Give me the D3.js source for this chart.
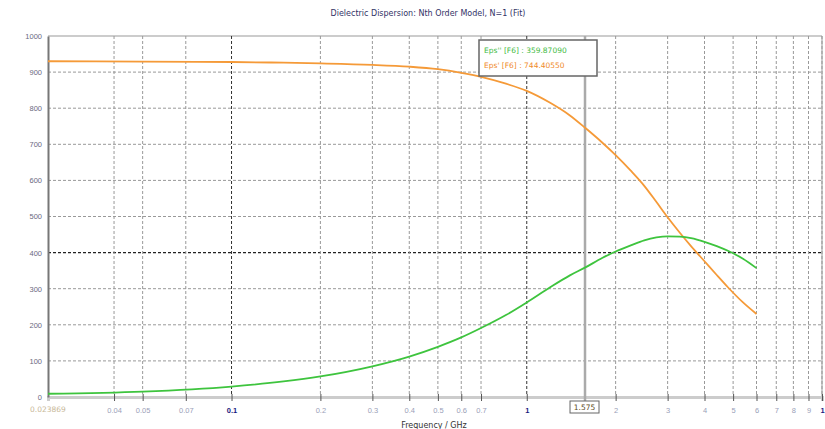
<!DOCTYPE html>
<html><head><meta charset="utf-8">
<script src="https://cdn.jsdelivr.net/npm/d3@7"></script>
<style>
body{margin:0;background:#fff;}
svg{display:block;font-family:"DejaVu Sans",sans-serif;}
</style></head><body>
<svg id="c" width="825" height="429"></svg>
<script>
const title = "Dielectric Dispersion: Nth Order Model, N=1 (Fit)";
const xLabel = "Frequency / GHz";
const freq    = [0.0239, 0.05, 0.1, 0.15, 0.2, 0.3, 0.4, 0.5, 0.6, 0.7, 0.85, 1.0, 1.2, 1.4, 1.58, 1.8, 2.0, 2.25, 2.5, 2.75, 3.0, 3.3, 3.6, 4.0, 4.4, 4.8, 5.4, 6.0];
const epsReal = [930, 929, 928, 926, 924, 920, 915, 908, 898, 887, 868, 848, 815, 780, 745, 705, 670, 627, 585, 540, 498, 455, 418, 376, 338, 304, 262, 230];
const epsImag = [9, 15, 29, 43, 57, 85, 112, 139, 165, 191, 227, 262, 304, 337, 359, 385, 403, 420, 434, 442, 445, 444, 440, 430, 418, 405, 383, 357];
const xTicks = [0.04,0.05,0.07,0.1,0.2,0.3,0.4,0.5,0.6,0.7,1,2,3,4,5,6,7,8,9,10];
const xTickLabels = ["0.04","0.05","0.07","0.1","0.2","0.3","0.4","0.5","0.6","0.7","1","2","3","4","5","6","7","8","9","1"];
const xMinLabel = "0.023869";
const yTicks = [0,100,200,300,400,500,600,700,800,900,1000];
const cursorFreq = 1.575;
const cursorLabel = "1.575";
const tipImag = "Eps'' [F6] : 359.87090";
const tipReal = "Eps' [F6] : 744.40550";

const svg = d3.select("#c");
const L=48, R=822, T=36, B=397;
const x = d3.scaleLog().domain([0.0239,10]).range([L,R]);
const y = d3.scaleLinear().domain([0,1000]).range([B,T]);

svg.append("text").attr("x",428).attr("y",16).attr("text-anchor","middle")
  .attr("font-size",8).attr("fill","#333366").text(title);

svg.append("g").selectAll("line").data(yTicks.filter(d=>d>0)).join("line")
  .attr("x1",L).attr("x2",R).attr("y1",d=>y(d)).attr("y2",d=>y(d))
  .attr("stroke",d=>d===400?"#222":(d===1000?"#999":"#999"))
  .attr("stroke-width",d=>d===400?1.2:1)
  .attr("stroke-dasharray",d=>d===1000?null:"3,2");

svg.append("g").selectAll("line").data(xTicks).join("line")
  .attr("x1",d=>x(d)).attr("x2",d=>x(d)).attr("y1",T).attr("y2",B)
  .attr("stroke",d=>(d===0.1||d===1)?"#333":"#999")
  .attr("stroke-dasharray","3,2");

svg.append("line").attr("x1",R).attr("x2",R).attr("y1",T).attr("y2",B).attr("stroke","#999");

const xAxis = d3.axisBottom(x).tickValues(xTicks).tickSize(4).tickFormat((d,i)=>xTickLabels[i]);
const gx = svg.append("g").attr("transform",`translate(0,${B})`).call(xAxis);
gx.select(".domain").attr("stroke","#ccc").attr("stroke-width",3);
gx.selectAll(".tick line").attr("stroke","#555").attr("y1",-3);
gx.selectAll(".tick text").attr("font-size",7.5).attr("dy",9)
  .attr("fill",d=>(d===0.1||d===1||d===10)?"#1a1a80":"#9aa0b8")
  .attr("font-weight",d=>(d===0.1||d===1||d===10)?"bold":"normal");
svg.append("text").attr("x",L).attr("y",B+15).attr("text-anchor","middle")
  .attr("font-size",7.5).attr("fill","#c8b898").text(xMinLabel);
svg.append("text").attr("x",434).attr("y",428).attr("text-anchor","middle")
  .attr("font-size",8).attr("fill","#333").text(xLabel);

const yAxis = d3.axisLeft(y).tickValues(yTicks).tickSize(0).tickFormat(d3.format("d"));
const gy = svg.append("g").attr("transform",`translate(${L},0)`).call(yAxis);
gy.select(".domain").attr("stroke","#777").attr("stroke-width",2);
gy.selectAll(".tick text").attr("font-size",7.5).attr("fill","#6a6a80").attr("dx",-3);

svg.append("line").attr("x1",x(cursorFreq)).attr("x2",x(cursorFreq)).attr("y1",T).attr("y2",B+4)
  .attr("stroke","#aaa").attr("stroke-width",2.5);
const cl = svg.append("g");
cl.append("rect").attr("x",x(cursorFreq)-15).attr("y",B+4).attr("width",29).attr("height",12)
  .attr("fill","#fff").attr("stroke","#666");
cl.append("text").attr("x",x(cursorFreq)-0.5).attr("y",B+13).attr("text-anchor","middle")
  .attr("font-size",7.5).attr("fill","#5a4a20").text(cursorLabel);

const line = d3.line().x((d,i)=>x(freq[i])).y(d=>y(d)).curve(d3.curveMonotoneX);
svg.append("path").datum(epsReal).attr("d",line).attr("fill","none")
  .attr("stroke","#f59a38").attr("stroke-width",1.8);
svg.append("path").datum(epsImag).attr("d",line).attr("fill","none")
  .attr("stroke","#3ec43e").attr("stroke-width",1.8);

const tip = svg.append("g");
tip.append("rect").attr("x",479).attr("y",40).attr("width",118).attr("height",36)
  .attr("fill","#fff").attr("stroke","#666").attr("stroke-width",1.5);
tip.append("text").attr("x",484).attr("y",53).attr("font-size",7.5).attr("fill","#44bb44").text(tipImag);
tip.append("text").attr("x",484).attr("y",68).attr("font-size",7.5).attr("fill","#f08a2a").text(tipReal);
</script>
</body></html>
